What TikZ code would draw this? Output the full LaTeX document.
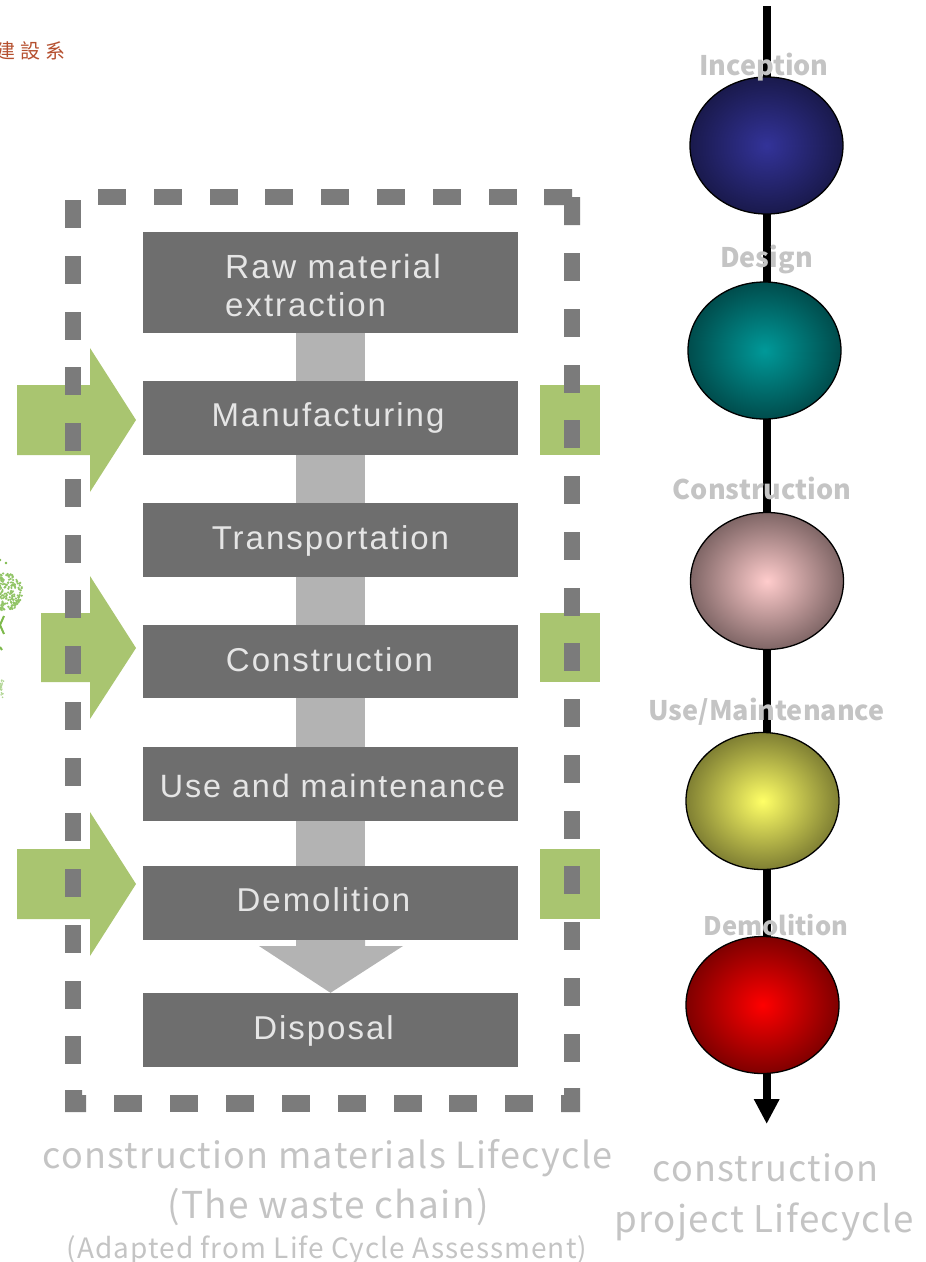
\documentclass[tikz,border=0pt]{standalone}
\usepackage{fontspec}
\usetikzlibrary{shapes.geometric,backgrounds,arrows.meta}
\setmainfont{Liberation Sans}
\newfontfamily\boxfont[LetterSpace=6]{Liberation Sans}
\newfontfamily\jpfont{Noto Sans CJK JP}
\newfontfamily\capfont[LetterSpace=3.7]{Noto Sans CJK JP}
\newfontfamily\tcfont{Noto Sans CJK TC}
\definecolor{boxgrey}{HTML}{6E6E6E}
\definecolor{dashgrey}{HTML}{7B7B7B}
\definecolor{bandgrey}{HTML}{B3B3B3}
\definecolor{leaf}{HTML}{A9C570}
\definecolor{treegreen}{HTML}{7DB94B}
\definecolor{labelgrey}{HTML}{C4C4C4}
\definecolor{capgrey}{HTML}{C4C4C4}
\definecolor{seal}{HTML}{B5502F}
\pgfdeclareradialshading{ballblue}{\pgfpointorigin}{rgb(0bp)=(0.2,0.2,0.6); rgb(25bp)=(0.1,0.1,0.3); rgb(50bp)=(0.1,0.1,0.3)}
\pgfdeclareradialshading{ballteal}{\pgfpointorigin}{rgb(0bp)=(0,0.6,0.6); rgb(25bp)=(0,0.3,0.3); rgb(50bp)=(0,0.3,0.3)}
\pgfdeclareradialshading{ballpink}{\pgfpointorigin}{rgb(0bp)=(1,0.8,0.8); rgb(25bp)=(0.5,0.4,0.4); rgb(50bp)=(0.5,0.4,0.4)}
\pgfdeclareradialshading{ballyellow}{\pgfpointorigin}{rgb(0bp)=(1,1,0.4); rgb(25bp)=(0.5,0.5,0.2); rgb(50bp)=(0.5,0.5,0.2)}
\pgfdeclareradialshading{ballred}{\pgfpointorigin}{rgb(0bp)=(1,0,0); rgb(25bp)=(0.5,0,0); rgb(50bp)=(0.5,0,0)}
\tikzset{
  stage/.style={rectangle,fill=boxgrey,draw=none,inner sep=0pt,minimum width=375pt},
  stagetext/.style={inner sep=0pt,anchor=base,text=white!90!black,font=\boxfont\fontsize{33}{33}\selectfont},
  band/.style={draw=bandgrey,line width=69pt},
  phase/.style={ellipse,draw=black,line width=1.3pt,inner sep=0pt,minimum width=153pt,minimum height=137pt},
  phaselabel/.style={inner sep=0pt,anchor=base,text=labelgrey,font=\jpfont\bfseries\fontsize{27}{27}\selectfont},
  capbig/.style={inner sep=0pt,anchor=base,text=capgrey,font=\capfont\fontsize{36}{36}\selectfont},
  capsmall/.style={inner sep=0pt,anchor=base,text=capgrey,font=\capfont\fontsize{28}{28}\selectfont},
  lifeline/.style={draw=black,line width=8pt},
  dashbox/.style={fill=dashgrey,draw=none},
  inflow/.style={fill=leaf,draw=none},
}
\begin{document}
\begin{tikzpicture}[x=1pt,y=-1pt]
\useasboundingbox (0,0) rectangle (926,1262);
% heading fragment
\node[inner sep=0pt,anchor=base west,text=seal,font=\tcfont\fontsize{20}{20}\selectfont] (seal) at (-5,58) {建\hspace{5pt}設\hspace{5pt}系};
% tree fragment
\begin{scope}
\pgfmathsetseed{7}
\foreach \i in {1,...,260}{
  \pgfmathsetmacro{\a}{rnd*360}\pgfmathsetmacro{\r}{sqrt(rnd)*19}
  \fill[treegreen!85] ({4+\r*cos(\a)},{592+\r*sin(\a)}) circle (1.2pt);
}
\foreach \i in {1,...,22}{
  \pgfmathsetmacro{\a}{rnd}\pgfmathsetmacro{\r}{rnd*4}
  \fill[treegreen!60] ({\r},{680+\a*18}) circle (0.9pt);
}
\fill[treegreen] (0,560) circle (1.3pt) (6,563) circle (1.3pt);
\draw[treegreen,line width=2pt] (4,616) -- (0,625) -- (4,634);
\draw[treegreen,line width=2pt] (0,647) -- (2,650);
\end{scope}
% green inflow arrows and outflow squares
\fill[inflow] (17,385) -- (90,385) -- (90,348) -- (136,420) -- (90,492) -- (90,455) -- (17,455) -- cycle;
\fill[inflow] (41,613) -- (90,613) -- (90,576) -- (136,648) -- (90,719) -- (90,682) -- (41,682) -- cycle;
\fill[inflow] (17,849) -- (90,849) -- (90,812) -- (136,884) -- (90,956) -- (90,919) -- (17,919) -- cycle;
\fill[inflow] (540,385) rectangle (600,455);
\fill[inflow] (540,613) rectangle (600,682);
\fill[inflow] (540,849) rectangle (600,919);
% stages
\node[stage,minimum height=101pt] (raw)  at (330.5,282.5) {};
\node[stage,minimum height=74pt]  (manu) at (330.5,418) {};
\node[stage,minimum height=74pt]  (tran) at (330.5,540) {};
\node[stage,minimum height=73pt]  (cons) at (330.5,661.5) {};
\node[stage,minimum height=74pt]  (use)  at (330.5,784) {};
\node[stage,minimum height=74pt]  (demo) at (330.5,903) {};
\node[stage,minimum height=74pt]  (disp) at (330.5,1030) {};
% flow band between stages
\begin{scope}[on background layer]
\draw[band] (raw) -- (manu);
\draw[band] (manu) -- (tran);
\draw[band] (tran) -- (cons);
\draw[band] (cons) -- (use);
\draw[band] (use) -- (demo);
\end{scope}
\coordinate (tipL) at (259,946);
\coordinate (tipR) at (403,946);
\fill[bandgrey] (296,940) -- (365,940) -- (365,946) -- (tipR) -- (disp.north) -- (tipL) -- (296,946) -- cycle;
% stage texts
\node[stagetext,anchor=base west,font=\boxfont\fontsize{33.5}{33}\selectfont] (t1a) at (225,278) {Raw material};
\node[stagetext,anchor=base west] (t1b) at (225,316) {extraction};
\node[stagetext] (t2) at (328,426) {Manufacturing};
\node[stagetext] (t3) at (330.5,549) {Transportation};
\node[stagetext] (t4) at (329.5,671) {Construction};
\node[stagetext,font=\boxfont\fontsize{32.3}{33}\selectfont] (t5) at (332.5,797) {Use and maintenance};
\node[stagetext] (t6) at (323.5,911) {Demolition};
\node[stagetext] (t7) at (323.5,1039) {Disposal};
% dashed frame
\foreach \k in {0,...,15}{
  \fill[dashbox] (65,{200+55.75*\k}) rectangle (81,{228+55.75*\k});
}
\foreach \k in {0,...,14}{
  \fill[dashbox] (564,{253+55.75*\k}) rectangle (580,{281+55.75*\k});
}
\foreach \k in {0,...,7}{
  \fill[dashbox] ({98+55.8*\k},189) rectangle ({126+55.8*\k},205);
}
\foreach \k in {0,...,7}{
  \fill[dashbox] ({114+55.9*\k},1095) rectangle ({142+55.9*\k},1112);
}
\fill[dashbox] (544,189) -- (572,189) -- (572,197) -- (580,197) -- (580,225) -- (564,225) -- (564,205) -- (544,205) -- cycle;
\fill[dashbox] (65,1090) -- (82,1090) -- (82,1095) -- (86,1095) -- (86,1112) -- (65,1112) -- cycle;
\fill[dashbox] (561,1112) -- (561,1095) -- (564,1095) -- (564,1088) -- (580,1088) -- (580,1112) -- cycle;
% project lifecycle
\coordinate (top) at (766.7,6);
\coordinate (bottom) at (766.7,1124);
\node[phase,shade,shading=ballblue] (c1) at (766.5,145.5) {};
\node[phase,shade,shading=ballteal] (c2) at (764.5,350.5) {};
\node[phase,shade,shading=ballpink] (c3) at (767,581) {};
\node[phase,shade,shading=ballyellow] (c4) at (762.5,801) {};
\node[phase,shade,shading=ballred] (c5) at (762.5,1005) {};
\begin{scope}[on background layer]
\draw[lifeline] (top) -- (c1 -| top);
\draw[lifeline] (c1 -| top) -- (c2 -| top);
\draw[lifeline] (c2 -| top) -- (c3 -| top);
\draw[lifeline] (c3 -| top) -- (c4 -| top);
\draw[lifeline] (c4 -| top) -- (c5 -| top);
\draw[lifeline,-{Triangle[length=25pt,width=24pt]}] (c5 -| top) -- (bottom);
\end{scope}
\node[phaselabel] (l1) at (764,75) {Inception};
\node[phaselabel] (l2) at (766.5,267) {Design};
\node[phaselabel] (l3) at (762,499) {Construction};
\node[phaselabel] (l4) at (766.5,720) {Use/Maintenance};
\node[phaselabel,font=\jpfont\bfseries\fontsize{25.5}{27}\selectfont] (l5) at (776,935) {Demolition};
% captions
\node[capbig] (cap1) at (327.5,1168) {construction materials Lifecycle};
\node[capbig,font=\capfont\fontsize{37}{36}\selectfont] (cap2) at (328,1218) {(The waste chain)};
\node[capsmall] (cap3) at (327,1258) {(Adapted from Life Cycle Assessment)};
\node[capbig] (cap4) at (765.5,1181) {construction};
\node[capbig,font=\capfont\fontsize{36.7}{36}\selectfont] (cap5) at (764,1232) {project Lifecycle};
\end{tikzpicture}
\end{document}
